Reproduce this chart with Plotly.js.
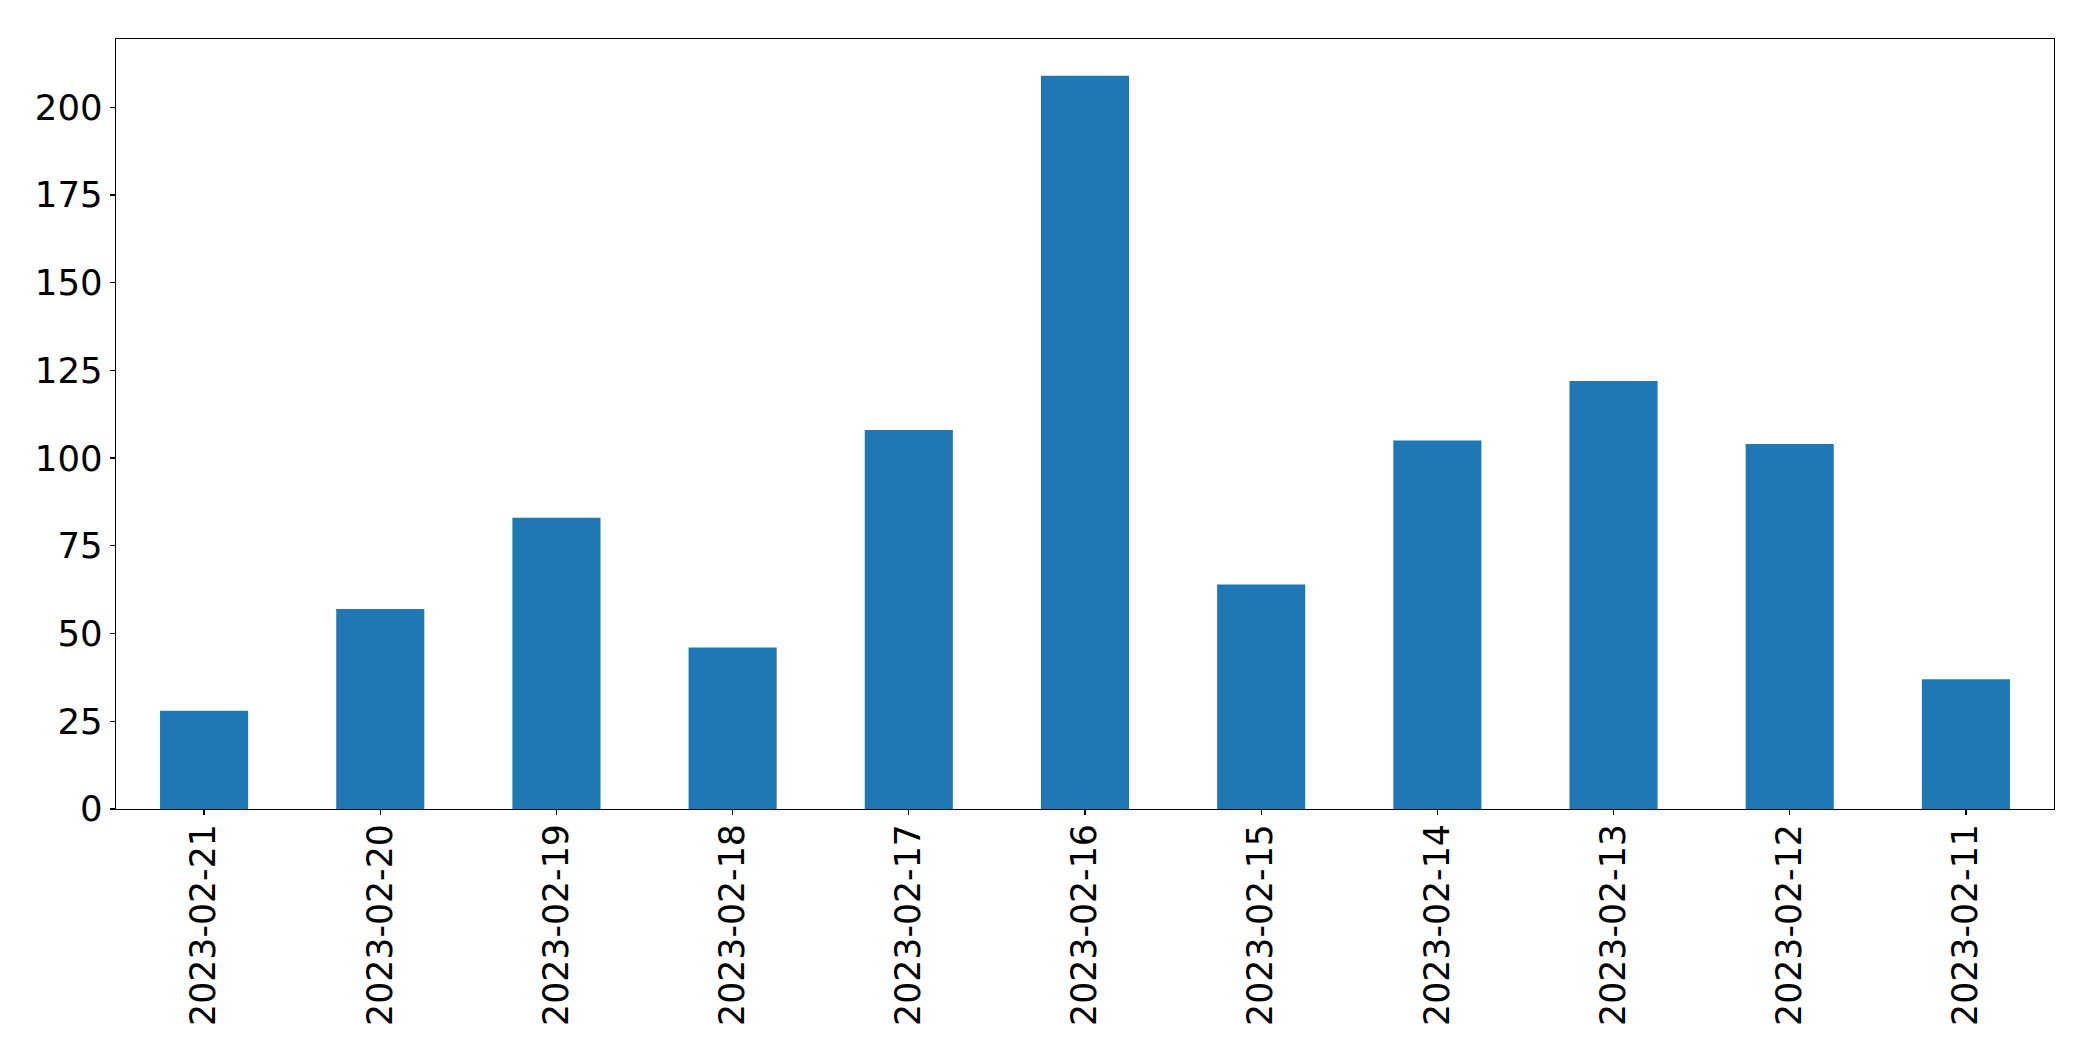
<!DOCTYPE html>
<html>
<head>
<meta charset="utf-8">
<script src="https://cdn.plot.ly/plotly-3.0.1.min.js"></script>
<style>html,body{margin:0;padding:0;background:#fff;}#chart{width:2093px;height:1061px;}</style>
</head>
<body>
<div id="chart"></div>
<script>
const dates = ["2023-02-21","2023-02-20","2023-02-19","2023-02-18","2023-02-17","2023-02-16","2023-02-15","2023-02-14","2023-02-13","2023-02-12","2023-02-11"];
const counts = [28, 57, 83, 46, 108, 209, 64, 105, 122, 104, 37];
const yTicks = [0, 25, 50, 75, 100, 125, 150, 175, 200];

const trace = {
  type: "bar",
  x: dates,
  y: counts,
  width: 0.5,
  marker: {color: "#1f77b4", line: {width: 0}},
  hoverinfo: "x+y"
};

const FS = 34.72;

const layout = {
  width: 2093,
  height: 1061,
  margin: {l: 116, r: 39, t: 39, b: 252, pad: 0},
  paper_bgcolor: "#ffffff",
  plot_bgcolor: "#ffffff",
  showlegend: false,
  font: {family: "DejaVu Sans", size: FS, color: "#000"},
  xaxis: {
    type: "category",
    range: [-0.5, dates.length - 0.5],
    showgrid: false,
    zeroline: false,
    showline: true,
    mirror: true,
    linecolor: "#000",
    linewidth: 1.3,
    ticks: "outside",
    ticklen: 5,
    tickwidth: 1.3,
    tickcolor: "#000",
    tickangle: -90,
    ticklabelstandoff: -5,
    tickfont: {family: "DejaVu Sans", size: FS, color: "#000"},
    fixedrange: true
  },
  yaxis: {
    range: [0, Math.max(...counts) * 1.05],
    tickmode: "array",
    tickvals: yTicks,
    ticktext: yTicks.map(String),
    showgrid: false,
    zeroline: false,
    showline: true,
    mirror: true,
    linecolor: "#000",
    linewidth: 1.3,
    ticks: "outside",
    ticklen: 5,
    tickwidth: 1.3,
    tickcolor: "#000",
    tickfont: {family: "DejaVu Sans", size: 35.5, color: "#000"},
    fixedrange: true
  }
};

Plotly.newPlot("chart", [trace], layout, {displayModeBar: false, staticPlot: true});
</script>
</body>
</html>
